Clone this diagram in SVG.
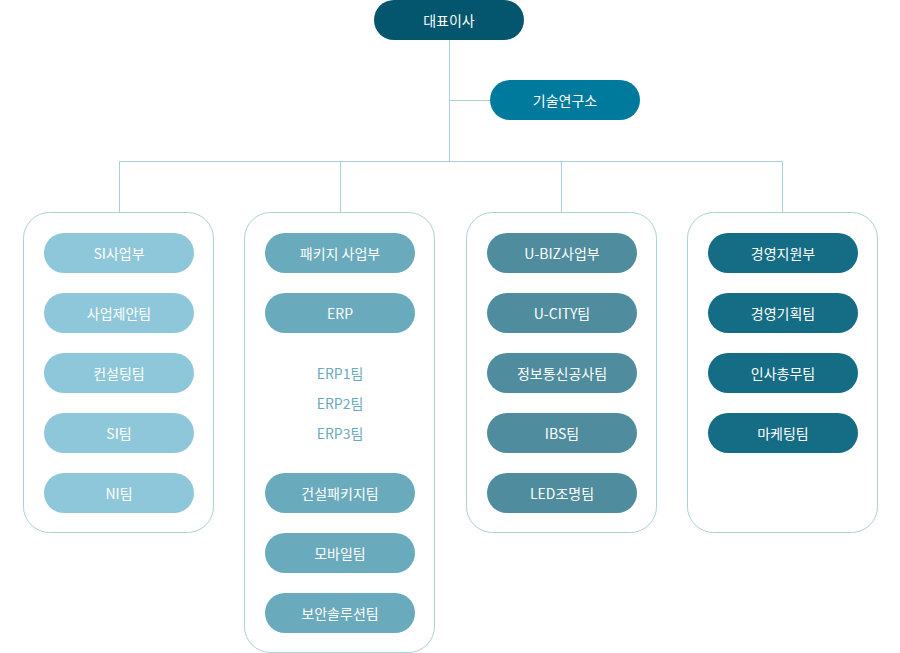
<svg xmlns="http://www.w3.org/2000/svg" width="900" height="653" viewBox="0 0 900 653">
<style>
text{font-family:"Noto Sans CJK KR","Noto Sans",sans-serif;font-size:14px;text-anchor:middle;dominant-baseline:central;fill:#fff}
.ln{stroke:#aacfd9;stroke-width:1;fill:none}
.box{fill:#fff;stroke:#aacfd9;stroke-width:1}
.c1{fill:#8fc7da}.c2{fill:#6aaabd}.c3{fill:#4e8c9e}.c4{fill:#146c85}
.sub{fill:#6aaabd}
</style>
<rect width="900" height="653" fill="#fff"/>
<g id="connectors">
<path class="ln" d="M449.5 40V161.5M449.5 100.5H490M119.5 161.5H782.5M119.5 161.5V212M340.5 161.5V212M561.5 161.5V212M782.5 161.5V212"/>
</g>
<g id="ceo"><rect x="374" y="0" width="150" height="40" rx="20" fill="#03566e"/><text x="449" y="20">대표이사</text></g>
<g id="lab"><rect x="490" y="80" width="150" height="40" rx="20" fill="#007a9c"/><text x="565" y="100">기술연구소</text></g>
<g id="col1">
<rect class="box" x="23.5" y="212.5" width="190" height="320" rx="26"/>
<g id="si-div"><rect class="c1" x="44" y="233" width="150" height="40" rx="20"/><text x="119" y="253">SI사업부</text></g>
<g id="si-prop"><rect class="c1" x="44" y="293" width="150" height="40" rx="20"/><text x="119" y="313">사업제안팀</text></g>
<g id="si-cons"><rect class="c1" x="44" y="353" width="150" height="40" rx="20"/><text x="119" y="373">컨설팅팀</text></g>
<g id="si-team"><rect class="c1" x="44" y="413" width="150" height="40" rx="20"/><text x="119" y="433">SI팀</text></g>
<g id="ni-team"><rect class="c1" x="44" y="473" width="150" height="40" rx="20"/><text x="119" y="493">NI팀</text></g>
</g>
<g id="col2">
<rect class="box" x="244.5" y="212.5" width="190" height="440" rx="26"/>
<g id="pkg"><rect class="c2" x="265" y="233" width="150" height="40" rx="20"/><text x="340" y="253">패키지 사업부</text></g>
<g id="erp"><rect class="c2" x="265" y="293" width="150" height="40" rx="20"/><text x="340" y="313">ERP</text></g>
<g id="erp-teams"><text class="sub" x="340" y="373">ERP1팀</text><text class="sub" x="340" y="403">ERP2팀</text><text class="sub" x="340" y="433">ERP3팀</text></g>
<g id="const"><rect class="c2" x="265" y="473" width="150" height="40" rx="20"/><text x="340" y="493">건설패키지팀</text></g>
<g id="mobile"><rect class="c2" x="265" y="533" width="150" height="40" rx="20"/><text x="340" y="553">모바일팀</text></g>
<g id="sec"><rect class="c2" x="265" y="593" width="150" height="40" rx="20"/><text x="340" y="613">보안솔루션팀</text></g>
</g>
<g id="col3">
<rect class="box" x="466.5" y="212.5" width="190" height="320" rx="26"/>
<g id="ubiz"><rect class="c3" x="487" y="233" width="150" height="40" rx="20"/><text x="562" y="253">U-BIZ사업부</text></g>
<g id="ucity"><rect class="c3" x="487" y="293" width="150" height="40" rx="20"/><text x="562" y="313">U-CITY팀</text></g>
<g id="ict"><rect class="c3" x="487" y="353" width="150" height="40" rx="20"/><text x="562" y="373">정보통신공사팀</text></g>
<g id="ibs"><rect class="c3" x="487" y="413" width="150" height="40" rx="20"/><text x="562" y="433">IBS팀</text></g>
<g id="led"><rect class="c3" x="487" y="473" width="150" height="40" rx="20"/><text x="562" y="493">LED조명팀</text></g>
</g>
<g id="col4">
<rect class="box" x="687.5" y="212.5" width="190" height="320" rx="26"/>
<g id="mgmt"><rect class="c4" x="708" y="233" width="150" height="40" rx="20"/><text x="783" y="253">경영지원부</text></g>
<g id="plan"><rect class="c4" x="708" y="293" width="150" height="40" rx="20"/><text x="783" y="313">경영기획팀</text></g>
<g id="hr"><rect class="c4" x="708" y="353" width="150" height="40" rx="20"/><text x="783" y="373">인사총무팀</text></g>
<g id="mkt"><rect class="c4" x="708" y="413" width="150" height="40" rx="20"/><text x="783" y="433">마케팅팀</text></g>
</g>
</svg>
